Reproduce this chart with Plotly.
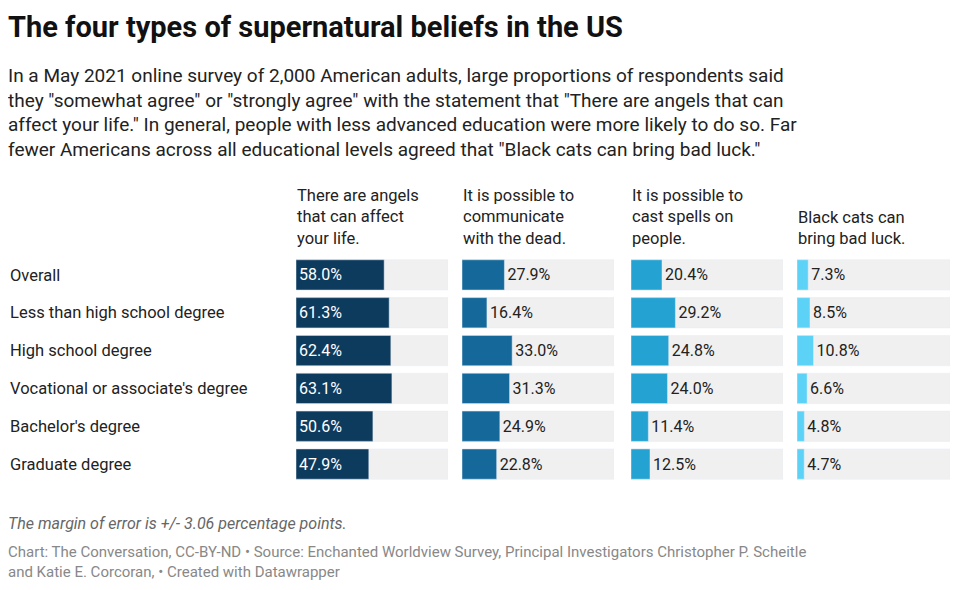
import plotly.graph_objects as go

W, H = 944, 574  # page body has an 8px margin
groups = ["Overall", "Less than high school degree", "High school degree",
          "Vocational or associate's degree", "Bachelor's degree", "Graduate degree"]
headers = ["There are angels<br>that can affect<br>your life.",
           "It is possible to<br>communicate<br>with the dead.",
           "It is possible to<br>cast spells on<br>people.",
           "Black cats can<br>bring bad luck."]
angels = [58.0, 61.3, 62.4, 63.1, 50.6, 47.9]
dead = [27.9, 16.4, 33.0, 31.3, 24.9, 22.8]
spells = [20.4, 29.2, 24.8, 24.0, 11.4, 12.5]
cats = [7.3, 8.5, 10.8, 6.6, 4.8, 4.7]
series = [angels, dead, spells, cats]
colors = ["#0d3b5e", "#15699a", "#24a3d3", "#5dd2f7"]
col_px = [(296, 448), (462, 614), (631, 783), (797, 950)]

def px(x): return (x - 8) / W
def py(y): return 1 - (y - 8) / H

FONT = "Roboto"
fig = go.Figure()
layout = dict(barmode="overlay", width=W, height=H, showlegend=False,
              margin=dict(l=0, r=0, t=0, b=0), plot_bgcolor="white", paper_bgcolor="white",
              font=dict(family=FONT, color="#222"), bargap=0.2)
for i, vals in enumerate(series):
    n = "" if i == 0 else str(i + 1)
    xa, ya = "x" + n, "y" + n
    fig.add_trace(go.Bar(y=groups, x=[100] * 6, orientation="h", marker_color="#f0f0f0",
                         xaxis=xa, yaxis=ya, hoverinfo="skip"))
    txt = ["%.1f%%" % v for v in vals]
    if i == 0:
        fig.add_trace(go.Bar(y=groups, x=vals, orientation="h", marker_color=colors[i],
                             text=txt, textposition="inside", insidetextanchor="start",
                             textfont=dict(color="white", size=16, family=FONT),
                             xaxis=xa, yaxis=ya))
    else:
        fig.add_trace(go.Bar(y=groups, x=vals, orientation="h", marker_color=colors[i],
                             text=txt, textposition="outside", cliponaxis=False,
                             textfont=dict(color="#222", size=16, family=FONT),
                             xaxis=xa, yaxis=ya))
    layout["xaxis" + n] = dict(domain=[px(col_px[i][0]), px(col_px[i][1])], range=[0, 100],
                               visible=False, anchor=ya)
    layout["yaxis" + n] = dict(domain=[py(483), py(256)], autorange="reversed",
                               visible=False, anchor=xa)
    fig.add_annotation(x=px(col_px[i][0] - 1), y=py(250), xref="paper", yref="paper",
                       text=headers[i], showarrow=False, xanchor="left", yanchor="bottom",
                       align="left", font=dict(size=16.5, color="#222"))
fig.update_layout(**layout)

for j, g in enumerate(groups):
    fig.add_annotation(x=px(8), y=py(275 + j * 37.8), xref="paper", yref="paper", text=g,
                       showarrow=False, xanchor="left", yanchor="middle",
                       font=dict(size=16.5, color="#222"))

fig.add_annotation(x=px(6), y=py(8), xref="paper", yref="paper",
                   text="<b>The four types of supernatural beliefs in the US</b>",
                   showarrow=False, xanchor="left", yanchor="top", font=dict(size=29, color="#111"))
sub = ("In a May 2021 online survey of 2,000 American adults, large proportions of respondents said<br>"
       "they \"somewhat agree\" or \"strongly agree\" with the statement that \"There are angels that can<br>"
       "affect your life.\" In general, people with less advanced education were more likely to do so. Far<br>"
       "fewer Americans across all educational levels agreed that \"Black cats can bring bad luck.\"")
fig.add_annotation(x=px(6), y=py(62), xref="paper", yref="paper", text=sub, showarrow=False,
                   xanchor="left", yanchor="top", align="left",
                   font=dict(size=19, color="#222"))
fig.add_annotation(x=px(6), y=py(512), xref="paper", yref="paper",
                   text="<i>The margin of error is +/- 3.06 percentage points.</i>",
                   showarrow=False, xanchor="left", yanchor="top", font=dict(size=16, color="#666"))
fig.add_annotation(x=px(6), y=py(541), xref="paper", yref="paper",
                   text="Chart: The Conversation, CC-BY-ND • Source: Enchanted Worldview Survey, Principal Investigators Christopher P. Scheitle<br>and Katie E. Corcoran, • Created with Datawrapper",
                   showarrow=False, xanchor="left", yanchor="top", align="left",
                   font=dict(size=15, color="#888"))

fig.write_html("out.html")
